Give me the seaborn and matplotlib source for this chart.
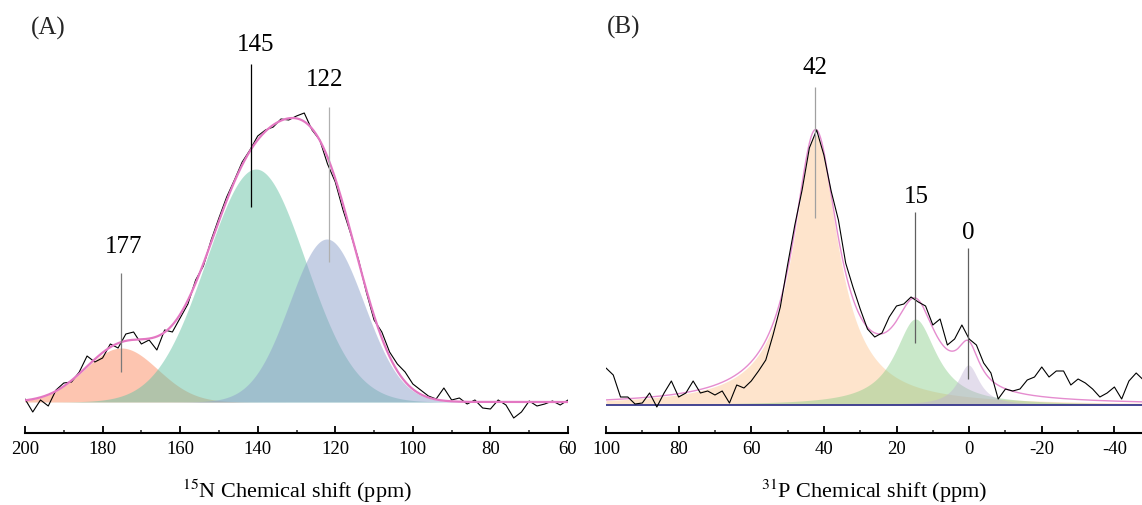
import numpy as np
import pandas as pd
import matplotlib
matplotlib.use("Agg")
import matplotlib.pyplot as plt
from matplotlib.ticker import MultipleLocator
import seaborn as sns

# ---- (A) 15N spectrum: measured trace, read every 2 ppm (200 -> 60) ----
n_ppm = list(range(200, 59, -2))
n_signal = [3, -10, 2, -4, 12, 19, 20, 30, 46, 40, 44, 58, 54, 68, 70, 58, 62, 52,
            72, 70, 84, 98, 122, 136, 162, 184, 205, 222, 240, 252, 266, 272, 275,
            283, 282, 286, 289, 272, 262, 238, 220, 192, 168, 142, 110, 82, 70, 50,
            38, 30, 18, 12, 6, 3, 14, 2, 4, -2, 2, -6, -7, 2, -3, -16, -10, 1, -4,
            -2, 1, -3, 2]
# fitted gaussian components (centre ppm, height, sigma ppm)
n_centers = [175.2, 140.5, 122.2]
n_heights = [54, 233, 163]
n_sigmas = [9.4, 12.8, 9.6]
n_labels = ["177", "145", "122"]

# ---- (B) 31P spectrum: measured trace, read every 2 ppm (100 -> -48) ----
p_ppm = list(range(100, -49, -2))
p_signal = [37, 30, 8, 8, 1, 2, 12, -2, 12, 24, 8, 12, 24, 12, 14, 10, 14, 2, 20,
            17, 24, 34, 45, 70, 98, 140, 180, 215, 257, 275, 250, 214, 185, 142,
            118, 96, 76, 68, 72, 88, 99, 101, 108, 103, 99, 80, 86, 60, 66, 80, 66,
            60, 42, 32, 6, 16, 14, 16, 25, 28, 38, 28, 34, 34, 20, 26, 22, 16, 8,
            12, 18, 6, 24, 32, 25]
# fitted lorentzian components (centre ppm, height, half width ppm)
p_centers = [42.3, 14.8, 0.2]
p_heights = [270, 86, 40]
p_widths = [7.5, 7.0, 3.6]
p_labels = ["42", "15", "0"]

sns.set_theme(style="white")
plt.rcParams["font.family"] = ["Liberation Serif", "DejaVu Serif"]
plt.rcParams["mathtext.fontset"] = "stix"
plt.rcParams["axes.unicode_minus"] = False

W, H = 1142, 505
fig = plt.figure(figsize=(W / 100, H / 100), dpi=100)
ax_a = fig.add_axes([25 / W, 1 - 433 / H, 543 / W, 423 / H])
ax_b = fig.add_axes([606 / W, 1 - 433 / H, 536 / W, 423 / H])


def style_axis(ax, xlim, ylim, xlabel):
    ax.set_xlim(*xlim)
    ax.set_ylim(*ylim)
    for s in ["left", "top", "right"]:
        ax.spines[s].set_visible(False)
    ax.spines["bottom"].set_color("black")
    ax.spines["bottom"].set_linewidth(1.5)
    ax.set_yticks([])
    ax.set_ylabel("")
    ax.xaxis.set_major_locator(MultipleLocator(20))
    ax.xaxis.set_minor_locator(MultipleLocator(10))
    ax.tick_params(axis="x", which="major", direction="in", length=5, width=1.3,
                   labelsize=13.5, pad=6, colors="black", bottom=True)
    ax.tick_params(axis="x", which="minor", direction="in", length=2.5, width=1.1,
                   bottom=True)
    ax.set_xlabel(xlabel, fontsize=16, labelpad=14, color="black")


# ---------------- panel A ----------------
grid_a = np.linspace(200, 60, 1401)
comps_a = [h * np.exp(-(grid_a - c) ** 2 / (2 * s ** 2))
           for c, h, s in zip(n_centers, n_heights, n_sigmas)]
fills_a = ["#fc8d62", "#66c2a5", "#8da0cb"]
for comp, col in zip(comps_a, fills_a):
    ax_a.fill_between(grid_a, 0, comp, color=col, alpha=0.5, lw=0)
sns.lineplot(x=n_ppm, y=n_signal, ax=ax_a, color="black", lw=0.8)
sns.lineplot(x=grid_a, y=np.sum(comps_a, axis=0), ax=ax_a, color="#e377c2", lw=1.6)

# label positions / leader lines (ppm, text y, line top, line bottom, line colour)
a_marks = [(174.7, 155, 175.3, 129, 30, "#7a7a7a"),
           (140.5, 357, 141.7, 338, 195, "black"),
           (122.7, 322, 121.6, 295, 140, "#b0b0b0")]
for lab, (tx, ty, lx, l0, l1, lc) in zip(n_labels, a_marks):
    ax_a.text(tx, ty, lab, ha="center", va="center", fontsize=18, color="black")
    ax_a.vlines(lx, l1, l0, color=lc, lw=0.9)

style_axis(ax_a, (200, 60), (-31, 392), r"$^{15}$N Chemical shift (ppm)")

# ---------------- panel B ----------------
grid_b = np.linspace(100, -48, 1481)
comps_b = [h / (1 + ((grid_b - c) / w) ** 2)
           for c, h, w in zip(p_centers, p_heights, p_widths)]
fills_b = ["#fdc086", "#7fc97f", "#beaed4"]
for comp, col in zip(comps_b, fills_b):
    ax_b.fill_between(grid_b, 0, comp, color=col, alpha=0.42, lw=0)
ax_b.axhline(0, color="#2b2b8a", lw=1.2)
sns.lineplot(x=grid_b, y=np.sum(comps_b, axis=0), ax=ax_b, color="#e58ccf", lw=1.0)
sns.lineplot(x=p_ppm, y=p_signal, ax=ax_b, color="black", lw=0.8)

b_marks = [(42.4, 337, 42.4, 318, 187, "#a0a0a0"),
           (14.4, 208, 14.8, 193, 62, "#606060"),
           (0.36, 172, 0.2, 157, 26, "#606060")]
for lab, (tx, ty, lx, l0, l1, lc) in zip(p_labels, b_marks):
    ax_b.text(tx, ty, lab, ha="center", va="center", fontsize=18, color="black")
    ax_b.vlines(lx, l1, l0, color=lc, lw=0.9)

style_axis(ax_b, (100, -47.6), (-28, 395), r"$^{31}$P Chemical shift (ppm)")

fig.text(48.7 / W, 1 - 28 / H, "(A)", ha="center", va="center", fontsize=18)
fig.text(624 / W, 1 - 27 / H, "(B)", ha="center", va="center", fontsize=18)

fig.savefig("out.png", dpi=100)
